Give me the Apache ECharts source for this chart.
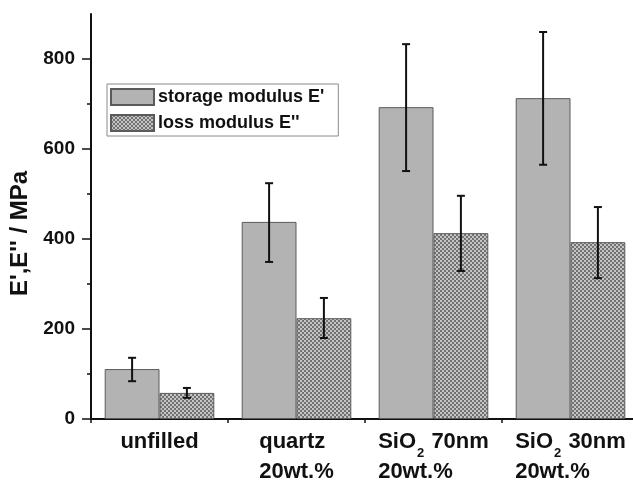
<!DOCTYPE html>
<html>
<head>
<meta charset="utf-8">
<script src="https://cdn.jsdelivr.net/npm/echarts@6/dist/echarts.min.js"></script>
<style>html,body{margin:0;padding:0;background:#fff;}#c{width:633px;height:482px;}</style>
</head>
<body>
<div id="c"></div>
<script>
var categories = ['unfilled', 'quartz\n20wt.%', 'SiO2 70nm\n20wt.%', 'SiO2 30nm\n20wt.%'];
var storageName = "storage modulus E'";
var lossName = "loss modulus E''";
var storage = [111, 438, 693, 713];
var storageLow = [84, 349, 551, 565];
var storageHigh = [136, 524, 833, 860];
var loss = [58, 224, 413, 393];
var lossLow = [47, 180, 329, 313];
var lossHigh = [69, 269, 496, 471];
var yTicks = [0, 200, 400, 600, 800];
var yMinorTicks = [100, 300, 500, 700];
var yMin = 0, yMax = 900;

var FONT = '"Liberation Sans", Arial, sans-serif';

function makePattern() {
  var cv = document.createElement('canvas');
  cv.width = 4; cv.height = 4;
  var g = cv.getContext('2d');
  g.fillStyle = '#727272'; g.fillRect(0, 0, 4, 4);
  g.fillStyle = '#c4c4c4';
  g.fillRect(0, 0, 2, 2);
  g.fillRect(2, 2, 2, 2);
  return {image: cv, repeat: 'repeat'};
}

function errData(low, high) {
  return low.map(function (l, i) { return [i, l, high[i]]; });
}

function errSeries(low, high, side) {
  return {
    type: 'custom',
    xAxisIndex: 0, yAxisIndex: 0,
    z: 5,
    silent: true,
    data: errData(low, high),
    renderItem: function (params, api) {
      var i = api.value(0);
      var pLo = api.coord([i, api.value(1)]);
      var pHi = api.coord([i, api.value(2)]);
      var cw = api.size([1, 0])[0];
      var x = pLo[0] + side * 0.2 * cw;
      var cap = 4;
      var st = {stroke: '#111', lineWidth: 2};
      return {
        type: 'group',
        children: [
          {type: 'line', shape: {x1: x, y1: pLo[1], x2: x, y2: pHi[1]}, style: st},
          {type: 'line', shape: {x1: x - cap, y1: pLo[1], x2: x + cap, y2: pLo[1]}, style: st},
          {type: 'line', shape: {x1: x - cap, y1: pHi[1], x2: x + cap, y2: pHi[1]}, style: st}
        ]
      };
    }
  };
}

function catLabel(v) {
  var lines = v.split('\n');
  return lines.map(function (ln) {
    if (ln.indexOf('SiO2') === 0) {
      return '{a|SiO}{s|2}{a|' + ln.slice(4) + '}';
    }
    return '{a|' + ln + '}';
  }).join('\n');
}

var chart = echarts.init(document.getElementById('c'), null, {renderer: 'canvas'});
chart.setOption({
  animation: false,
  backgroundColor: '#fff',
  textStyle: {fontFamily: FONT},
  grid: {left: 91, top: 14, width: 548, height: 405, containLabel: false, outerBoundsMode: 'none'},
  legend: {
    data: [storageName, lossName],
    orient: 'vertical',
    icon: 'rect',
    left: 107, top: 84,
    padding: [4, 14, 4, 3],
    itemWidth: 43, itemHeight: 16, itemGap: 8,
    borderColor: '#8a8a8a', borderWidth: 1,
    selectedMode: false,
    textStyle: {fontFamily: FONT, fontWeight: 'bold', fontSize: 18, color: '#111', padding: [0, 0, 0, -1]}
  },
  xAxis: [{
    type: 'category',
    data: categories,
    position: 'bottom',
    axisLine: {lineStyle: {color: '#111', width: 2}},
    axisTick: {alignWithLabel: true, length: 8, lineStyle: {color: '#111', width: 1.5}},
    axisLabel: {
      interval: 0,
      margin: 8,
      formatter: catLabel,
      rich: {
        a: {fontFamily: FONT, fontWeight: 'bold', fontSize: 22, color: '#111', lineHeight: 30, align: 'left'},
        s: {fontFamily: FONT, fontWeight: 'bold', fontSize: 13, color: '#111', lineHeight: 30, padding: [22, 1, 0, 1], align: 'left'}
      }
    }
  }, {
    type: 'category',
    data: categories,
    position: 'bottom',
    axisLine: {show: false},
    axisTick: {show: true, length: 4, lineStyle: {color: '#111', width: 1.5}},
    axisLabel: {show: false}
  }],
  yAxis: [{
    type: 'value',
    min: yMin, max: yMax,
    interval: 200,
    name: "E',E'' / MPa",
    nameLocation: 'middle',
    nameGap: 58,
    nameRotate: 90,
    nameTextStyle: {fontFamily: FONT, fontWeight: 'bold', fontSize: 24, color: '#111', padding: [0, 34, 0, 0]},
    axisLine: {show: true, lineStyle: {color: '#111', width: 2}},
    axisTick: {show: true, length: 9, customValues: yTicks, lineStyle: {color: '#111', width: 1.5}},
    axisLabel: {customValues: yTicks, margin: 16, fontFamily: FONT, fontWeight: 'bold', fontSize: 19, color: '#111'},
    splitLine: {show: false}
  }, {
    type: 'value',
    min: yMin, max: yMax,
    position: 'left',
    axisLine: {show: false},
    axisTick: {show: true, length: 4, customValues: yMinorTicks, lineStyle: {color: '#111', width: 1.5}},
    axisLabel: {show: false},
    splitLine: {show: false}
  }],
  series: [{
    name: storageName,
    type: 'bar',
    data: storage,
    barGap: '0%',
    barCategoryGap: '20%',
    itemStyle: {color: '#b3b3b3', borderColor: '#5a5a5a', borderWidth: 1}
  }, {
    name: lossName,
    type: 'bar',
    data: loss,
    barGap: '0%',
    barCategoryGap: '20%',
    itemStyle: {color: makePattern(), borderColor: '#5a5a5a', borderWidth: 1}
  },
  errSeries(storageLow, storageHigh, -1),
  errSeries(lossLow, lossHigh, 1)
  ]
});
</script>
</body>
</html>
